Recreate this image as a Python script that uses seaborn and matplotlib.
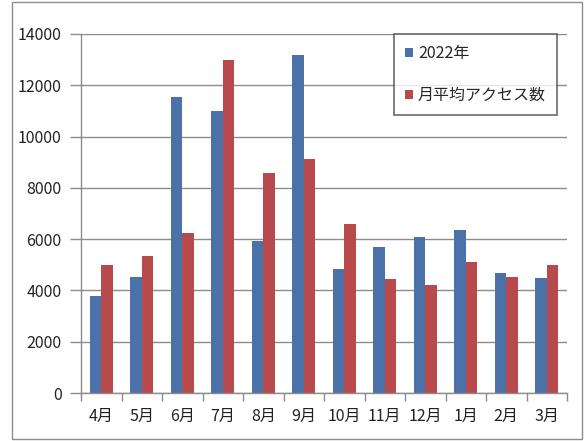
import pandas as pd
import numpy as np
import seaborn as sns
import matplotlib.pyplot as plt
from matplotlib.patches import Rectangle

months = ["4月", "5月", "6月", "7月", "8月", "9月", "10月", "11月", "12月", "1月", "2月", "3月"]
series_names = ["2022年", "月平均アクセス数"]
access_2022 = [3770, 4520, 11550, 11010, 5910, 13190, 4830, 5690, 6080, 6340, 4690, 4470]
access_avg = [5000, 5330, 6230, 12990, 8560, 9140, 6600, 4440, 4230, 5120, 4520, 5000]
colors = ["#4A72A8", "#B84A4D"]


def build_frame():
    df = pd.DataFrame({"月": months * 2,
                       "値": access_2022 + access_avg,
                       "系列": [series_names[0]] * len(months) + [series_names[1]] * len(months)})
    return df


def plot_bars(df):
    sns.set_theme(style="white")
    plt.rcParams['font.family'] = ['Noto Sans CJK JP', 'DejaVu Sans']
    fig = plt.figure(figsize=(5.84, 4.41), dpi=100)
    ax = fig.add_axes([81 / 584, 1 - 393 / 441, (567 - 81) / 584, (393 - 34) / 441])
    sns.barplot(data=df, x="月", y="値", hue="系列", palette=colors, width=0.56,
                gap=0, saturation=1, linewidth=0, ax=ax, order=months, hue_order=series_names)

    ax.set_ylim(0, 14000)
    ax.set_yticks(range(0, 14001, 2000))
    ax.yaxis.grid(True, color="#8c8c8c", linewidth=1)
    ax.set_axisbelow(True)
    ax.set_xlim(-0.5, len(months) - 0.5)
    ax.set_xlabel("")
    ax.set_ylabel("")

    for s in ["top", "right"]:
        ax.spines[s].set_visible(False)
    for s in ["left", "bottom"]:
        ax.spines[s].set_color("#8c8c8c")
        ax.spines[s].set_linewidth(1)

    ax.set_xticks(np.arange(-0.5, len(months)), minor=True)
    ax.tick_params(axis="x", which="major", length=0, pad=11, labelsize=11.5, colors="#222222")
    ax.tick_params(axis="x", which="minor", length=6, width=1, color="#8c8c8c", direction="out", bottom=True)
    ax.tick_params(axis="y", length=8, width=1, color="#8c8c8c", direction="out", left=True,
                   labelsize=11.5, labelcolor="#222222", pad=6)

    ax.legend(loc="upper right", bbox_to_anchor=(557 / 584, 1 - 34 / 441), bbox_transform=fig.transFigure,
              frameon=True, fancybox=False, edgecolor="#444444", fontsize=11.5,
              handlelength=0.5, handleheight=0.5, handletextpad=0.3, labelspacing=1.55,
              borderpad=0.7, borderaxespad=0)
    ax.get_legend().get_frame().set_linewidth(1.2)

    fig.patches.append(Rectangle((12 / 584, 0.005), 1 - 14 / 584, 0.99, transform=fig.transFigure,
                                 fill=False, edgecolor="#8c8c8c", linewidth=1))
    return fig


def main():
    df = build_frame()
    fig = plot_bars(df)
    fig.savefig("out.png", dpi=100)


if __name__ == "__main__":
    main()
